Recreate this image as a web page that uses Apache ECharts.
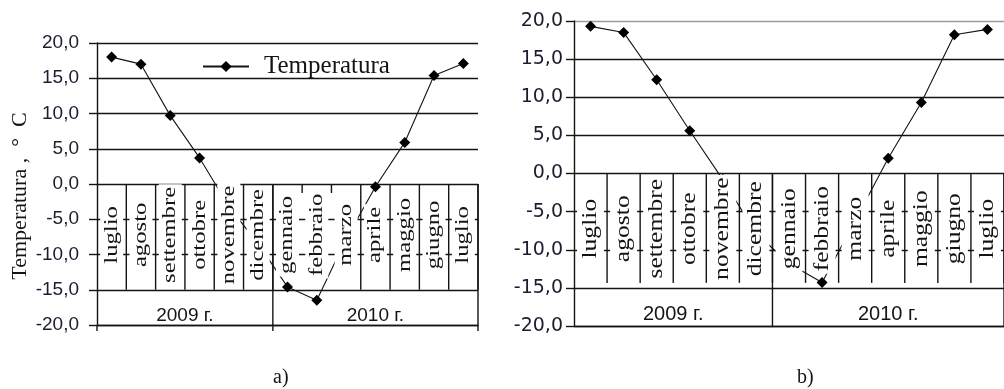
<!DOCTYPE html>
<html>
<head>
<meta charset="utf-8">
<script src="https://cdn.jsdelivr.net/npm/echarts@6/dist/echarts.min.js"></script>
<style>
  html, body { margin: 0; padding: 0; background: #fff; }
  #chart { width: 1004px; height: 389px; }
</style>
</head>
<body>
<div id="chart"></div>
<script>
// Months of the observation period (July 2009 – July 2010)
const months = ['luglio', 'agosto', 'settembre', 'ottobre', 'novembre', 'dicembre',
                'gennaio', 'febbraio', 'marzo', 'aprile', 'maggio', 'giugno', 'luglio'];
// Year groups under the month row: label, first and last month index
const yearLabels = ['2009 г.', '2010 г.'];
const yearStart = [0, 6];
const yearEnd = [5, 12];
// Monthly mean temperature, °C
const tempA = [18.0, 17.0, 9.7, 3.7, -3.2, -8.5, -14.6, -16.5, -7.8, -0.4, 5.9, 15.4, 17.1];
const tempB = [19.3, 18.5, 12.3, 5.6, -0.8, -7.8, -11.8, -14.3, -6.2, 2.0, 9.3, 18.2, 18.9];
const seriesName = 'Temperatura';
const yTitle = 'Temperatura ,  °  C';
const captions = ['a)', 'b)'];
const yMin = -20, yMax = 20, yStep = 5;
const cellBottom = -15;   // month cells span 0 … -15, year row -15 … -20

const INK = '#141414';

// per-panel drawing style
const panels = [
  { grid: { left: 97, top: 43, width: 381, height: 282 },
    tickFamily: 'Liberation Sans', tickSize: 19, labelMargin: 18,
    monthSize: 19, stretch: 1.3, padX: 2,
    yearSize: 19, yearLift: 9, tickBelow: 6, borderShort: 0,
    stubBorders: [6, 7], stubLen: 9,
    topLine: INK, data: tempA },
  { grid: { left: 574, top: 21, width: 442, height: 305 },
    tickFamily: 'DejaVu Sans', tickSize: 19, labelMargin: 11,
    monthSize: 21, stretch: 1.22, padX: 3,
    yearSize: 20, yearLift: 12, tickBelow: 0, borderShort: 5,
    stubBorders: [], stubLen: 0,
    topLine: '#9a9a9a', data: tempB }
];

function fmt(v) { return v.toFixed(1).replace('.', ','); }

// month cells: right border + vertical label on a white box
function monthCells(p) {
  return function (params, api) {
    const i = api.value(0);
    const bw = api.size([1, 0])[0];
    const top = api.coord([i, 0]);
    const bot = api.coord([i, cellBottom]);
    const xr = top[0] + bw / 2;
    const yEnd = p.stubBorders.indexOf(i) >= 0 ? top[1] + p.stubLen : bot[1] - p.borderShort;
    return {
      type: 'group',
      children: [
        { type: 'line',
          shape: { x1: xr, y1: top[1], x2: xr, y2: yEnd },
          style: { stroke: INK, lineWidth: 1.4 } },
        { type: 'text',
          x: top[0], y: (top[1] + bot[1]) / 2 - 2,
          rotation: Math.PI / 2, scaleX: p.stretch, scaleY: 1,
          style: { text: months[i], fontFamily: 'Liberation Serif', fontSize: p.monthSize,
                   fill: INK, align: 'center', verticalAlign: 'middle',
                   backgroundColor: '#fff', padding: [p.padX, 2, p.padX, 2] } }
      ]
    };
  };
}

// year row: group borders reaching the bottom axis and centred year text
function yearRow(p) {
  return function (params, api) {
    const s = api.value(0), e = api.value(1), k = api.value(2);
    const bw = api.size([1, 0])[0];
    const xl = api.coord([s, 0])[0] - bw / 2;
    const xr = api.coord([e, 0])[0] + bw / 2;
    const y0 = api.coord([s, 0])[1];
    const yb = api.coord([s, yMin])[1];
    const children = [
      { type: 'line', shape: { x1: xr, y1: y0, x2: xr, y2: yb + p.tickBelow },
        style: { stroke: INK, lineWidth: 1.4 } },
      { type: 'text', x: (xl + xr) / 2, y: yb - p.yearLift,
        style: { text: yearLabels[k], fontFamily: 'Liberation Sans', fontSize: p.yearSize,
                 fill: INK, align: 'center', verticalAlign: 'middle' } }
    ];
    if (k === 0 && p.tickBelow) {
      children.push({ type: 'line', shape: { x1: xl, y1: yb, x2: xl, y2: yb + p.tickBelow },
        style: { stroke: INK, lineWidth: 1.4 } });
    }
    return { type: 'group', children };
  };
}

const grids = [], xAxes = [], yAxes = [], series = [];
panels.forEach((p, n) => {
  grids.push(p.grid);
  xAxes.push({
    type: 'category', gridIndex: n, data: months, boundaryGap: true,
    position: 'bottom',
    axisLine: { show: true, onZero: false, lineStyle: { color: INK, width: 1.4 } },
    axisTick: { show: false }, axisLabel: { show: false }, splitLine: { show: false }
  });
  const nLines = (yMax - yMin) / yStep + 1;
  const gridColors = [];
  for (let j = 0; j < nLines; j++) gridColors.push(j === nLines - 1 ? p.topLine : INK);
  yAxes.push({
    type: 'value', gridIndex: n, min: yMin, max: yMax, interval: yStep,
    name: n === 0 ? yTitle : '',
    nameLocation: 'middle', nameRotate: 90, nameGap: 66,
    nameTextStyle: { fontFamily: 'Liberation Serif', fontSize: 22, color: INK, padding: [0, 24, 0, 0] },
    axisLine: { show: true, lineStyle: { color: INK, width: 1.4 } },
    axisTick: { show: true, inside: false, length: 8, lineStyle: { color: INK, width: 1.4 } },
    axisLabel: { formatter: fmt, margin: p.labelMargin, color: '#1c1c30',
                 fontFamily: p.tickFamily, fontSize: p.tickSize },
    splitLine: { show: true, lineStyle: { color: gridColors, width: 1.4 } }
  });
  series.push({
    name: seriesName, type: 'line', xAxisIndex: n, yAxisIndex: n, z: 2,
    data: p.data, symbol: 'diamond', symbolSize: 11,
    itemStyle: { color: '#000' },
    lineStyle: { color: INK, width: 1.1 }
  });
  series.push({
    type: 'custom', xAxisIndex: n, yAxisIndex: n, z: 3, silent: true,
    renderItem: monthCells(p),
    data: months.map((m, i) => [i, 0]),
    encode: { x: 0, y: 1 }
  });
  series.push({
    type: 'custom', xAxisIndex: n, yAxisIndex: n, z: 3, silent: true,
    renderItem: yearRow(p),
    data: yearLabels.map((y, k) => [yearStart[k], yearEnd[k], k]),
    encode: { x: [0, 1] }
  });
});

const chart = echarts.init(document.getElementById('chart'), null, { renderer: 'canvas' });
chart.setOption({
  animation: false,
  backgroundColor: '#fff',
  grid: grids,
  xAxis: xAxes,
  yAxis: yAxes,
  legend: {
    data: [seriesName], left: 202, top: 54, padding: 0,
    itemWidth: 46, itemHeight: 14,
    textStyle: { fontFamily: 'Liberation Serif', fontSize: 25, color: INK, padding: [0, 0, 0, 10] }
  },
  title: [
    { text: captions[0], left: 273, top: 368, padding: 0,
      textStyle: { fontFamily: 'Liberation Serif', fontSize: 20, fontWeight: 'normal', color: INK } },
    { text: captions[1], left: 797, top: 368, padding: 0,
      textStyle: { fontFamily: 'Liberation Serif', fontSize: 20, fontWeight: 'normal', color: INK } }
  ],
  series: series
});
</script>
</body>
</html>
